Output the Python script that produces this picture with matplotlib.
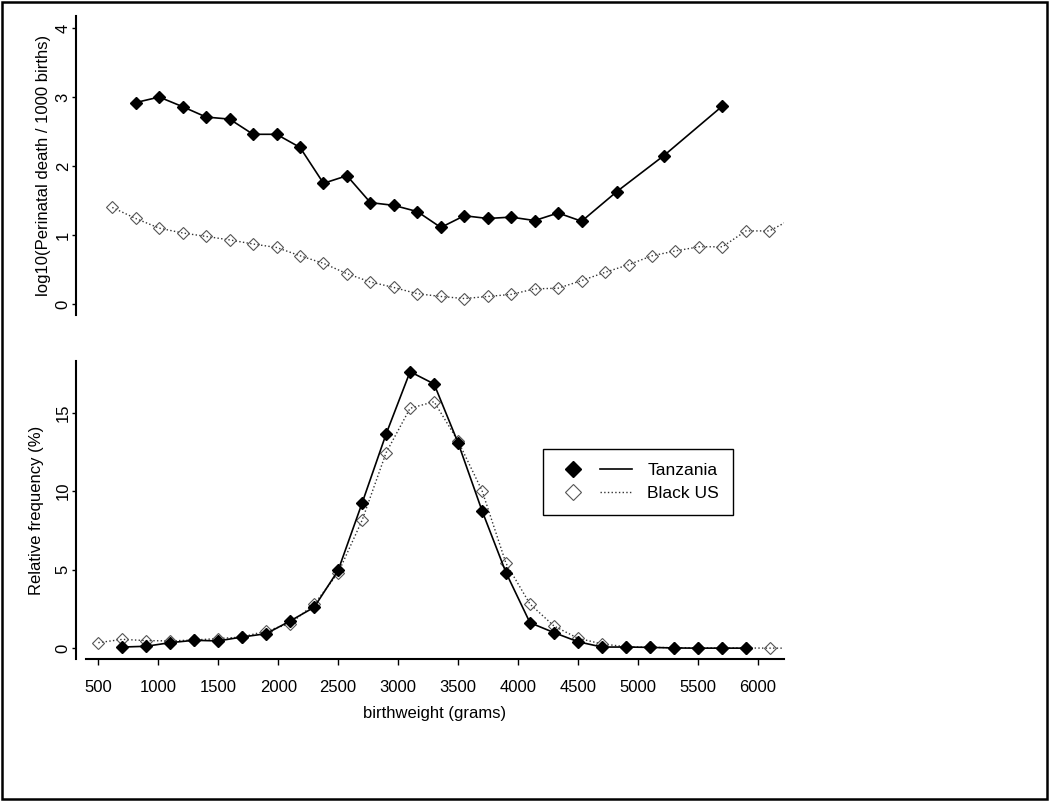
import matplotlib
matplotlib.use('Agg')
import matplotlib.pyplot as plt
from matplotlib.lines import Line2D
from matplotlib.legend_handler import HandlerTuple
from matplotlib.patches import Rectangle

plt.rcParams['font.family'] = ['Liberation Sans', 'DejaVu Sans']

# perinatal death (top panel)
tz_death_x = [800, 1000, 1200, 1400, 1600, 1800, 2000, 2200, 2400, 2600, 2800, 3000,
              3200, 3400, 3600, 3800, 4000, 4200, 4400, 4600, 4900, 5300, 5800]
tz_death_y = [2.92, 3.00, 2.86, 2.71, 2.68, 2.46, 2.46, 2.27, 1.75, 1.86, 1.47, 1.43,
              1.34, 1.11, 1.28, 1.24, 1.26, 1.21, 1.32, 1.20, 1.63, 2.15, 2.87]
us_death_x = [600, 800, 1000, 1200, 1400, 1600, 1800, 2000, 2200, 2400, 2600, 2800,
              3000, 3200, 3400, 3600, 3800, 4000, 4200, 4400, 4600, 4800, 5000, 5200,
              5400, 5600, 5800, 6000, 6200, 6400]
us_death_y = [1.40, 1.24, 1.10, 1.03, 0.98, 0.93, 0.87, 0.82, 0.70, 0.59, 0.44, 0.32,
              0.24, 0.15, 0.11, 0.08, 0.11, 0.14, 0.22, 0.23, 0.34, 0.46, 0.57, 0.70,
              0.77, 0.83, 0.83, 1.06, 1.06, 1.24]

# relative frequency (bottom panel)
tz_freq_x = [700, 900, 1100, 1300, 1500, 1700, 1900, 2100, 2300, 2500, 2700, 2900,
             3100, 3300, 3500, 3700, 3900, 4100, 4300, 4500, 4700, 4900, 5100, 5300,
             5500, 5700, 5900]
tz_freq_y = [0.08, 0.13, 0.36, 0.51, 0.47, 0.72, 0.93, 1.74, 2.61, 4.96, 9.25, 13.64,
             17.61, 16.83, 13.09, 8.76, 4.82, 1.63, 1.00, 0.42, 0.08, 0.08, 0.06, 0.02,
             0.01, 0.01, 0.01]
us_freq_x = [500, 700, 900, 1100, 1300, 1500, 1700, 1900, 2100, 2300, 2500, 2700,
             2900, 3100, 3300, 3500, 3700, 3900, 4100, 4300, 4500, 4700, 4900, 5100,
             5300, 5500, 5700, 5900, 6100, 6300]
us_freq_y = [0.36, 0.57, 0.49, 0.47, 0.53, 0.62, 0.72, 1.10, 1.57, 2.80, 4.80, 8.15,
             12.45, 15.28, 15.70, 13.20, 10.04, 5.41, 2.82, 1.42, 0.64, 0.28, 0.10, 0.06,
             0.04, 0.03, 0.02, 0.02, 0.01, 0.01]

x_ticks = [500, 1000, 1500, 2000, 2500, 3000, 3500, 4000, 4500, 5000, 5500, 6000]

tz_style = dict(color='black', lw=1.2, marker='D', ms=6, mfc='black', mec='black')
us_style = dict(color='#333333', lw=1.0, ls=':', marker='D', ms=6, mfc='none',
                mec='#555555', mew=0.8)

fig = plt.figure(figsize=(10.5, 8.01), dpi=100)
fig.patches.append(Rectangle((0.002, 0.003), 0.995, 0.994, transform=fig.transFigure,
                             fill=False, ec='black', lw=1.8))

ax1 = fig.add_axes([0.0819, 0.6067, 0.6648, 0.3733])
ax2 = fig.add_axes([0.0819, 0.1773, 0.6648, 0.372])

ax1.plot(us_death_x, us_death_y, **us_style)
ax1.plot(tz_death_x, tz_death_y, **tz_style)
ax1.set_xlim(376, 6325)
ax1.set_ylim(-0.159, 4.174)
ax1.set_yticks([0, 1, 2, 3, 4])
ax1.set_xticks([])
for s in ['top', 'right', 'bottom']:
    ax1.spines[s].set_visible(False)
ax1.set_ylabel('log10(Perinatal death / 1000 births)', fontsize=12, va='center')
ax1.yaxis.set_label_coords(-0.061, 0.5)

ax2.plot(us_freq_x, us_freq_y, **us_style)
ax2.plot(tz_freq_x, tz_freq_y, **tz_style)
ax2.set_xlim(397, 6219)
ax2.set_ylim(-0.68, 18.29)
ax2.set_yticks([0, 5, 10, 15])
ax2.set_xticks(x_ticks)
for s in ['top', 'right']:
    ax2.spines[s].set_visible(False)
ax2.set_ylabel('Relative frequency (%)', fontsize=12, va='center')
ax2.yaxis.set_label_coords(-0.071, 0.5)
ax2.set_xlabel('birthweight (grams)', fontsize=12, labelpad=8)
ax2.tick_params(axis='x', labelsize=12, length=4, width=1, pad=11)

for ax in (ax1, ax2):
    ax.spines['left'].set_position(('outward', 7))
    ax.spines['left'].set_linewidth(1.5)
    ax.spines['bottom'].set_linewidth(1.5)
    ax.tick_params(axis='y', labelsize=12, length=3, width=1, pad=1)
    for lab in ax.get_yticklabels():
        lab.set_rotation(90)
        lab.set_va('center')

h_tz = (Line2D([], [], ls='none', marker='D', ms=6, mfc='black', mec='black'),
        Line2D([], [], color='black', lw=1.2))
h_us = (Line2D([], [], ls='none', marker='D', ms=6, mfc='none', mec='#555555', mew=0.8),
        Line2D([], [], color='#333333', lw=1.0, ls=':'))
leg = ax2.legend([h_tz, h_us], ['Tanzania', 'Black US'],
                 handler_map={tuple: HandlerTuple(ndivide=2, pad=0.63)},
                 loc='upper left', bbox_to_anchor=(0.655, 0.705), borderaxespad=0,
                 fontsize=12.5, handlelength=4.3, handletextpad=0.9, borderpad=0.8,
                 labelspacing=0.45, markerscale=1.35, fancybox=False, framealpha=1,
                 edgecolor='black')
leg.get_frame().set_linewidth(1.0)

fig.savefig('out.png', dpi=100)
